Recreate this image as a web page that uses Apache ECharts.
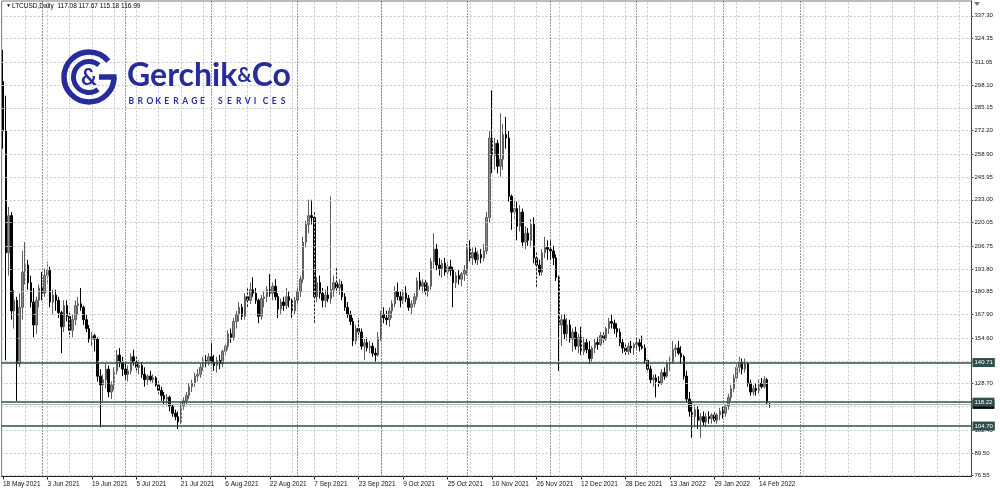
<!DOCTYPE html>
<html><head><meta charset="utf-8">
<script src="https://cdn.jsdelivr.net/npm/echarts@6/dist/echarts.min.js"></script>
<style>html,body{margin:0;padding:0;background:#fff}#c{width:1000px;height:491px}</style>
</head><body><div id="c"></div>
<script>
// ---- data (LTCUSD daily) ----
const startDate = [2021, 4, 18];   // 18 May 2021 (first bar)
const axisDays = 349;              // bars that fit in the window (incl. empty shift area)
const opens = [300,272,203,224,170,176,140,172,192,196,186,175,162,176,
183,180,190,193,175,179,176,169,161,173,167,159,165,173,174,172,165,160,154,156,154,133,128,131,137,124,128,136,145,141,
137,134,136,144,141,138,139,134,131,133,131,132,128,125,122,120,121,116,112,110,107,116,119,122,127,129,133,134,138,142,141,
144,141,139,142,140,147,150,157,155,164,168,172,167,178,176,182,180,176,167,177,178,182,180,184,178,171,175,173,178,176,170,
176,181,188,209,219,224,223,178,186,180,176,179,177,182,186,183,185,178,172,168,164,153,160,158,150,152,149,150,146,145,
155,168,166,165,170,174,181,178,176,180,177,172,174,178,187,184,186,181,184,198,205,196,194,197,192,195,193,186,190,188,191,
193,205,200,203,199,202,200,204,223,268,258,265,252,256,270,268,235,226,228,218,226,209,214,210,219,200,196,192,203,206,
205,204,200,189,162,165,157,162,154,158,150,155,147,152,148,143,149,152,151,156,154,160,164,163,160,158,152,149,147,150,149,
151,152,150,149,142,137,131,132,130,129,135,133,140,141,148,149,146,144,133,120,113,110,114,108,110,107,110,109,111,108,111,
113,112,116,121,126,132,138,141,137,140,129,124,126,125,129,127,131,117.08];
const highs = [318,292,229,226,182,178,180,204,209,199,190,183,178,185,
192,194,198,195,182,182,178,170,176,176,169,168,176,178,183,173,168,162,158,157,155,137,134,140,139,130,138,148,149,144,
141,139,146,148,144,142,141,138,134,136,134,133,130,127,124,123,122,117,114,113,118,121,124,129,131,135,137,140,144,145,146,
152,145,144,145,148,152,159,160,166,170,175,174,180,183,186,189,183,177,179,181,184,191,186,188,180,177,178,183,181,177,178,
183,190,212,221,233,233,226,189,190,183,182,184,235,190,195,188,187,180,175,170,166,162,166,160,154,155,153,152,149,158,
170,172,170,172,176,184,186,181,182,184,179,176,180,189,192,188,188,186,200,214,208,200,199,200,198,199,195,192,193,192,196,
208,210,206,206,204,205,208,226,272,295,268,267,282,276,280,272,236,234,232,230,228,218,217,222,223,203,199,205,212,210,
210,207,202,190,168,168,166,165,160,161,157,161,155,154,153,150,154,155,158,158,161,166,168,165,163,160,154,152,152,153,152,
155,154,156,151,143,139,134,134,133,137,138,142,144,153,151,153,150,145,136,124,119,117,116,112,113,112,113,112,113,112,115,
116,117,123,128,134,140,144,143,143,141,131,128,129,131,132,133,132,117.67];
const lows = [262,142,190,165,160,119,138,165,185,182,172,155,157,172,
176,178,185,172,168,170,166,146,158,164,155,155,162,168,170,162,158,152,150,147,130,104,118,126,121,120,125,134,138,133,
131,130,134,139,135,134,132,127,128,130,129,127,123,119,117,117,113,110,108,103,106,114,117,120,124,127,130,132,136,138,139,
140,136,135,137,138,145,148,152,153,160,164,165,165,172,174,178,174,163,165,172,175,178,176,176,166,168,170,171,172,166,168,
174,178,186,206,214,219,163,175,177,172,172,175,174,178,180,179,176,170,166,162,150,151,155,148,142,147,146,144,141,144,
153,163,162,161,166,172,176,172,174,175,170,168,172,176,182,180,179,178,182,194,193,190,189,190,189,190,172,183,185,184,187,
190,198,196,197,196,197,198,202,220,248,250,248,246,250,262,232,216,222,210,215,206,205,207,206,197,183,190,190,200,199,
199,196,187,136,150,154,153,152,147,148,146,145,145,146,140,141,146,148,150,151,153,157,160,157,155,150,146,145,145,146,145,
148,147,148,140,135,129,127,121,127,128,131,132,136,140,144,145,140,131,118,110,98,104,103,98,105,104,106,106,107,106,108,
109,110,114,119,124,130,135,134,135,127,122,122,122,123,126,126,117,115.18];
const closes = [272,203,224,170,176,140,172,192,196,186,175,162,176,183,
180,190,193,175,179,176,169,161,173,167,159,165,173,174,172,165,160,154,156,154,133,128,131,137,124,128,136,145,141,137,
134,136,144,141,138,139,134,131,133,131,132,128,125,122,120,121,116,112,110,107,116,119,122,127,129,133,134,138,142,141,144,
141,139,142,140,147,150,157,155,164,168,172,167,178,176,182,180,176,167,177,178,182,180,184,178,171,175,173,178,176,170,176,
181,188,209,219,224,223,178,186,180,176,179,177,182,186,183,185,178,172,168,164,153,160,158,150,152,149,150,146,145,155,
168,166,165,170,174,181,178,176,180,177,172,174,178,187,184,186,181,184,198,205,196,194,197,192,195,193,186,190,188,191,193,
205,200,203,199,202,200,204,223,268,258,265,252,256,270,268,235,226,228,218,226,209,214,210,219,200,196,192,203,206,205,
204,200,189,162,165,157,162,154,158,150,155,147,152,148,143,149,152,151,156,154,160,164,163,160,158,152,149,147,150,149,151,
152,150,149,142,137,131,132,130,129,135,133,140,141,148,149,146,144,133,120,113,110,114,108,110,107,110,109,111,108,111,113,
112,116,121,126,132,138,141,137,140,129,124,126,125,129,127,131,118,116.99];
const yTicks = [337.30,324.35,311.05,298.10,285.15,272.20,258.90,245.95,233.00,220.05,206.75,193.80,180.85,167.90,154.60,141.65,128.70,115.75,102.45,89.50,76.55];
const levels = [140.71, 118.22, 104.70];
const lastPrice = 116.99;
const header = 'LTCUSD,Daily  117.08 117.67 115.18 116.99';
const logoLine = 'BROKERAGE SERVICES';

// ---- build ----
const MN = ['Jan','Feb','Mar','Apr','May','Jun','Jul','Aug','Sep','Oct','Nov','Dec'];
const dates = Array.from({length: axisDays}, (_, i) => new Date(Date.UTC(startDate[0], startDate[1], startDate[2] + i)));
const categories = dates.map(d => d.getUTCDate() + ' ' + MN[d.getUTCMonth()] + ' ' + d.getUTCFullYear());
const lastIdx = opens.length - 1;
const candle = opens.map((o, i) => [o, closes[i], lows[i], highs[i]]);
const gridIdx = [], sepIdx = [];
let sepAfter = 0;
for (let i = 1; i < axisDays; i++) {
  if (i % 8 === 0) gridIdx.push(i);
  if (dates[i].getUTCDate() === 1) {
    if (i <= lastIdx) sepIdx.push(i);
    else if (sepAfter === 0) { sepIdx.push(i); sepAfter = 1; }
  }
}
const showLab = i => i % 16 === 0 && i <= lastIdx;
const FONT = '"Liberation Sans", Arial, sans-serif';
const BLUE = '#262d9a';

const logoLetters = [];
let lx = 128.5;
for (const ch of logoLine) {
  if (ch !== ' ') logoLetters.push({type: 'text', z: 10, style: {x: lx, y: 101.5, text: ch, align: 'left', verticalAlign: 'middle', font: 'bold 8.5px Lato, sans-serif', fill: BLUE}});
  lx += 8.95;
}

const chart = echarts.init(document.getElementById('c'), null, {renderer: 'canvas'});
chart.setOption({
  animation: false,
  backgroundColor: '#fff',
  grid: {left: 1.3, right: 28.5, top: 1, bottom: 14.5, show: true, borderColor: '#777', borderWidth: 1, backgroundColor: '#fff'},
  xAxis: {
    type: 'category', data: categories, boundaryGap: true,
    axisLine: {show: true, lineStyle: {color: '#222', width: 1}},
    axisTick: {show: true, interval: (i) => showLab(i), alignWithLabel: true, length: 3, lineStyle: {color: '#222'}},
    axisLabel: {interval: (i) => showLab(i), align: 'left', margin: 4, fontSize: 6.5, fontFamily: FONT, color: '#111'},
    splitLine: {show: false}
  },
  yAxis: {
    type: 'value', position: 'right', min: 76.1, max: 345.7, scale: true,
    axisLine: {show: true, lineStyle: {color: '#444', width: 1}},
    axisTick: {show: true, customValues: yTicks, length: 2, lineStyle: {color: '#444'}},
    axisLabel: {customValues: yTicks, formatter: v => v.toFixed(2), margin: 3, fontSize: 6, fontFamily: FONT, color: '#111'},
    splitLine: {show: false}
  },
  series: [
    {
      type: 'line', data: [], z: 1, silent: true,
      markLine: {silent: true, symbol: 'none', animation: false, label: {show: false},
        lineStyle: {color: '#c6c6c6', type: [2, 2], width: 1},
        data: yTicks.map(v => ({yAxis: v})).concat(gridIdx.map(i => ({xAxis: categories[i]})))}
    },
    {
      type: 'line', data: [], z: 2, silent: true,
      markLine: {silent: true, symbol: 'none', animation: false, label: {show: false},
        lineStyle: {color: '#333', type: [1, 2], width: 1},
        data: sepIdx.map(i => ({xAxis: categories[i]}))}
    },
    {
      type: 'candlestick', data: candle, z: 3, barWidth: 2,
      itemStyle: {color: '#8e8e8e', borderColor: '#5e5e5e', color0: '#000', borderColor0: '#000', borderWidth: 1}
    },
    {
      type: 'line', data: [], z: 4, silent: true,
      markLine: {silent: true, symbol: 'none', animation: false,
        lineStyle: {color: '#b4b4b4', type: 'solid', width: 1},
        label: {show: true, position: 'end', distance: 1, formatter: p => p.value.toFixed(2), backgroundColor: '#000', color: '#fff', padding: [2, 2, 1, 2], fontSize: 6, fontFamily: FONT},
        data: [{yAxis: lastPrice}]}
    },
    {
      type: 'line', data: [], z: 5, silent: true,
      markLine: {silent: true, symbol: 'none', animation: false,
        lineStyle: {color: '#2f4f4f', type: 'solid', width: 1.5},
        label: {show: true, position: 'end', distance: 1, formatter: p => p.value.toFixed(2), backgroundColor: '#2f4f4f', color: '#fff', padding: [2, 2, 1, 2], fontSize: 6, fontFamily: FONT},
        data: levels.map(v => ({yAxis: v}))}
    }
  ],
  graphic: [
    {type: 'text', left: 6, top: 3, z: 10, style: {text: '▼', font: '5px ' + FONT, fill: '#000'}},
    {type: 'text', left: 12, top: 2.5, z: 10, style: {text: header, font: '6.5px ' + FONT, fill: '#000'}},
    {type: 'polygon', z: 10, shape: {points: [[974, 2], [980, 2], [977, 6]]}, style: {fill: '#777'}},
    // logo
    {type: 'arc', z: 10, shape: {cx: 89, cy: 77, r: 25, startAngle: 0, endAngle: Math.PI * 1.78, clockwise: true},
      style: {stroke: BLUE, lineWidth: 5.5, fill: null}},
    {type: 'line', z: 10, shape: {x1: 99, y1: 77, x2: 116.5, y2: 77}, style: {stroke: BLUE, lineWidth: 5.5}},
    {type: 'arc', z: 10, shape: {cx: 89, cy: 77, r: 15.5, startAngle: Math.PI * 0.3, endAngle: Math.PI * 1.72, clockwise: true},
      style: {stroke: BLUE, lineWidth: 5, fill: null}},
    {type: 'text', z: 10, style: {x: 89, y: 78, text: '&', align: 'center', verticalAlign: 'middle', font: 'bold 22px Lato, sans-serif', fill: BLUE}},
    {type: 'text', z: 10, style: {x: 127, y: 76, verticalAlign: 'middle', fill: BLUE,
      rich: {a: {fontSize: 32, fontFamily: 'Lato', fontWeight: 'bold', fill: BLUE}, b: {fontSize: 20, fontFamily: 'Lato', fontWeight: 'bold', fill: BLUE}},
      text: '{a|Gerchik}{b|&}{a|Co}'}}
  ].concat(logoLetters)
});
</script></body></html>
